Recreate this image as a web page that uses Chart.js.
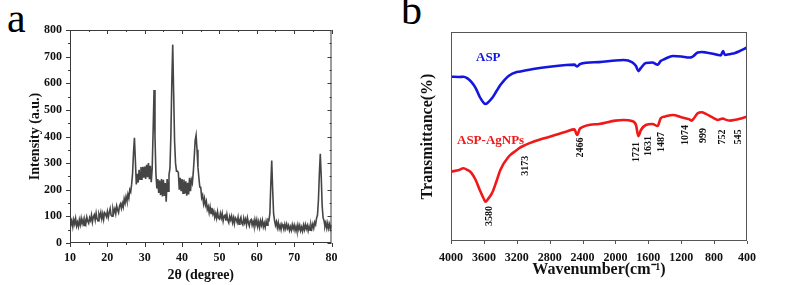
<!DOCTYPE html>
<html>
<head>
<meta charset="utf-8">
<script src="https://cdn.jsdelivr.net/npm/chart.js@4.4.1/dist/chart.umd.min.js"></script>
<style>
  body { margin: 0; background: #fff; width: 787px; height: 285px; overflow: hidden; position: relative;
         font-family: 'Liberation Serif', 'Times New Roman', serif; }
  canvas { position: absolute; top: 0; }
  #xrdChart { left: 0; }
  #ftirChart { left: 395px; }
  .tag { position: absolute; font-size: 42px; line-height: 1; color: #000; }
</style>
</head>
<body>
<div class="tag" style="left:7px; top:-3px;">a</div>
<div class="tag" style="left:401px; top:-11px;">b</div>
<canvas id="xrdChart" width="345" height="285"></canvas>
<canvas id="ftirChart" width="392" height="285"></canvas>
<script>
// ---- panel a: XRD pattern, sampled every 0.25 deg from 10 to 80 ----
const xrdStart = 10;
const xrdStep = 0.25;
const xrdIntensity = [
  // 10 - 14.75
  92, 68, 83, 61, 88, 72, 92, 64, 78, 62, 87, 69, 93, 73, 88, 66, 86, 72, 97, 82,
  // 15 - 19.75
  74, 95, 85, 105, 78, 98, 106, 86, 112, 91, 83, 109, 98, 115, 91, 110, 88, 114, 109, 99,
  // 20 - 24.75
  118, 96, 114, 129, 105, 101, 129, 114, 128, 110, 139, 124, 114, 139, 147, 130, 149, 135, 166, 150,
  // 25 - 29.75
  174, 158, 183, 168, 200, 192, 221, 260, 340, 395, 310, 220, 260, 227, 275, 240, 285, 237, 286, 245,
  // 30 - 34.75
  287, 241, 294, 247, 300, 240, 290, 228, 280, 420, 575, 400, 260, 205, 240, 188, 235, 180, 240, 175,
  // 35 - 39.75
  237, 177, 225, 155, 240, 195, 255, 280, 400, 600, 745, 560, 380, 300, 270, 270, 265, 200, 245, 195,
  // 40 - 44.75
  240, 187, 238, 186, 232, 178, 226, 182, 245, 195, 237, 225, 265, 320, 385, 405, 350, 285, 245, 210,
  // 45 - 49.75
  209, 170, 180, 148, 167, 142, 156, 126, 137, 114, 136, 111, 132, 109, 120, 96, 111, 93, 117, 94,
  // 50 - 54.75
  90, 111, 94, 111, 83, 101, 105, 84, 107, 85, 76, 100, 87, 101, 77, 94, 72, 95, 89, 77,
  // 55 - 59.75
  97, 71, 87, 97, 74, 68, 93, 76, 89, 68, 94, 76, 64, 84, 88, 67, 81, 64, 88, 69,
  // 60 - 64.75
  87, 62, 80, 59, 83, 67, 85, 61, 75, 59, 82, 67, 88, 85, 110, 220, 310, 200, 110, 85,
  // 65 - 69.75
  67, 80, 58, 77, 54, 67, 50, 71, 63, 50, 70, 54, 71, 55, 66, 47, 61, 48, 69, 53,
  // 70 - 74.75
  67, 47, 62, 45, 68, 51, 66, 46, 60, 45, 67, 50, 69, 53, 66, 46, 63, 48, 69, 54,
  // 75 - 79.75
  71, 56, 78, 69, 93, 105, 160, 260, 335, 250, 140, 95, 84, 62, 76, 55, 75, 55, 71, 53,
  // 80
  68
];

// ---- panel b: FTIR spectra ----
const wavenumbers = [
  4000, 3900, 3850, 3800, 3750, 3700, 3650, 3600, 3580, 3550,
  3500, 3450, 3400, 3300, 3200, 3173, 3100, 3000, 2800, 2600,
  2500, 2466, 2430, 2200, 2000, 1900, 1800, 1750, 1721, 1690,
  1631, 1550, 1487, 1450, 1400, 1300, 1200, 1100, 1074, 1050,
  1000, 950, 900, 800, 752, 720, 690, 670, 600, 545,
  500, 400
];
const aspT = [
  78.6, 78.5, 78.6, 77.8, 76.0, 73.2, 68.9, 66.0, 65.6, 66.3,
  68.4, 71.5, 74.6, 79.0, 80.9, 81.0, 81.6, 82.3, 83.4, 84.2,
  84.4, 83.5, 84.7, 85.6, 86.4, 86.6, 85.6, 83.7, 81.3, 82.8,
  85.2, 85.4, 84.4, 86.1, 87.1, 88.5, 88.3, 87.8, 87.9, 88.5,
  90.2, 90.4, 90.2, 89.5, 89.0, 88.8, 90.9, 89.0, 89.5, 90.0,
  90.7, 92.6
];
const aspAgT = [
  33.2, 34.0, 34.8, 34.0, 32.5, 29.2, 24.4, 20.1, 18.8, 20.1,
  23.0, 28.2, 34.0, 40.3, 43.5, 44.4, 45.9, 47.5, 49.9, 52.3,
  53.4, 50.7, 53.9, 56.0, 57.6, 57.9, 57.4, 55.5, 50.2, 53.1,
  55.5, 56.0, 55.0, 58.7, 59.5, 60.3, 59.2, 58.2, 57.6, 58.5,
  61.1, 61.6, 60.8, 58.7, 57.9, 58.4, 58.6, 58.2, 57.6, 58.0,
  58.4, 59.5
];
// band labels and where they sit (data coordinates)
const peakNames = ['3580', '3173', '2466', '1721', '1631', '1487', '1074', '999', '752', '545'];
const peakAnchorX = [3530, 3100, 2420, 1750, 1605, 1435, 1155, 925, 705, 510];
const peakAnchorY = [12, 36, 44.7, 42.6, 45.5, 47.4, 50.7, 50.5, 49.8, 49.8];
const seriesNames = ['ASP', 'ASP-AgNPs'];
const seriesColors = ['#1515e0', '#f01818'];
const nameAnchorX = [3696, 3927];
const nameAnchorY = [87.6, 47.8];

const SERIF = "'Liberation Serif', 'Times New Roman', serif";
Chart.defaults.font.family = SERIF;
Chart.defaults.color = '#111';

const pts = (xs, ys) => xs.map((v, i) => ({ x: v, y: ys[i] }));
const xrdPts = xrdIntensity.map((v, i) => ({ x: xrdStart + i * xrdStep, y: v }));

// frame + mirrored/minor ticks for the XRD panel
const xrdFrame = {
  id: 'xrdFrame',
  afterDatasetsDraw(chart) {
    const { ctx, chartArea: a, scales: { x, y } } = chart;
    ctx.save();
    ctx.strokeStyle = '#3a3a3a';
    ctx.lineWidth = 1;
    ctx.strokeRect(a.left + 0.5, a.top + 0.5, a.right - a.left - 1, a.bottom - a.top - 1);
    ctx.beginPath();
    for (let v = x.min; v <= x.max; v += 5) {
      const px = Math.round(x.getPixelForValue(v)) + 0.5;
      const len = v % 10 === 0 ? 4 : 2;
      ctx.moveTo(px, a.bottom); ctx.lineTo(px, a.bottom + len);
      ctx.moveTo(px, a.top); ctx.lineTo(px, a.top + len);
    }
    for (let v = y.min; v <= y.max; v += 50) {
      const py = Math.round(y.getPixelForValue(v)) + 0.5;
      const len = v % 100 === 0 ? 4 : 2;
      ctx.moveTo(a.left, py); ctx.lineTo(a.left - len, py);
      ctx.moveTo(a.right, py); ctx.lineTo(a.right - len, py);
    }
    ctx.stroke();
    ctx.restore();
  }
};

new Chart(document.getElementById('xrdChart'), {
  type: 'line',
  data: {
    datasets: [{
      data: xrdPts,
      borderColor: '#454545',
      borderWidth: 1.6,
      pointRadius: 0,
      tension: 0
    }]
  },
  options: {
    responsive: false,
    animation: false,
    layout: { padding: { left: 0, top: 30, right: 12, bottom: 0 } },
    plugins: { legend: { display: false }, tooltip: { enabled: false } },
    scales: {
      x: {
        type: 'linear', min: 10, max: 80,
        ticks: { stepSize: 10, padding: 7.5, font: { size: 12, weight: 'bold' } },
        grid: { display: false, drawTicks: false },
        border: { display: false },
        title: { display: true, text: '2θ (degree)', font: { size: 14, weight: 'bold' }, padding: { top: 0, bottom: 1.6 } },
        afterFit(s) { s.height = 42; }
      },
      y: {
        min: 0, max: 800,
        ticks: { stepSize: 100, padding: 8, font: { size: 12, weight: 'bold' } },
        grid: { display: false, drawTicks: false },
        border: { display: false },
        title: { display: true, text: 'Intensity (a.u.)', font: { size: 14, weight: 'bold' }, padding: { top: 26.6, bottom: 0 } },
        afterFit(s) { s.width = 70; }
      }
    }
  },
  plugins: [xrdFrame]
});

// frame, ticks and text labels for the FTIR panel
const ftirDecor = {
  id: 'ftirDecor',
  afterDatasetsDraw(chart) {
    const { ctx, chartArea: a, scales: { x, y } } = chart;
    ctx.save();
    ctx.strokeStyle = '#555';
    ctx.lineWidth = 1;
    ctx.strokeRect(a.left + 0.5, a.top + 0.5, a.right - a.left - 1, a.bottom - a.top - 1);
    ctx.beginPath();
    x.ticks.forEach(t => {
      const px = Math.round(x.getPixelForValue(t.value)) + 0.5;
      ctx.moveTo(px, a.bottom); ctx.lineTo(px, a.bottom + 3);
    });
    ctx.stroke();

    ctx.fillStyle = '#111';
    ctx.font = 'bold 10px ' + SERIF;
    ctx.textAlign = 'center';
    ctx.textBaseline = 'middle';
    peakNames.forEach((t, i) => {
      ctx.save();
      ctx.translate(x.getPixelForValue(peakAnchorX[i]), y.getPixelForValue(peakAnchorY[i]));
      ctx.rotate(-Math.PI / 2);
      ctx.fillText(t, 0, 0);
      ctx.restore();
    });

    ctx.font = 'bold 13px ' + SERIF;
    ctx.textAlign = 'left';
    seriesNames.forEach((t, i) => {
      ctx.fillStyle = seriesColors[i];
      ctx.fillText(t, x.getPixelForValue(nameAnchorX[i]), y.getPixelForValue(nameAnchorY[i]));
    });
    ctx.restore();
  }
};

new Chart(document.getElementById('ftirChart'), {
  type: 'line',
  data: {
    datasets: [
      { label: seriesNames[0], data: pts(wavenumbers, aspT), borderColor: seriesColors[0] },
      { label: seriesNames[1], data: pts(wavenumbers, aspAgT), borderColor: seriesColors[1] }
    ]
  },
  options: {
    responsive: false,
    animation: false,
    layout: { padding: { left: 0, top: 32, right: 40, bottom: 0 } },
    elements: { line: { borderWidth: 2.6, cubicInterpolationMode: 'monotone' }, point: { radius: 0 } },
    plugins: { legend: { display: false }, tooltip: { enabled: false } },
    scales: {
      x: {
        type: 'linear', min: 400, max: 4000, reverse: true,
        ticks: { stepSize: 400, padding: 9.5, autoSkip: false, maxRotation: 0, minRotation: 0,
                 callback: v => String(v), font: { size: 12, weight: 'bold' } },
        grid: { display: false, drawTicks: false },
        border: { display: false },
        title: { display: true, text: 'Wavenumber(cm⁻¹)', font: { size: 16, weight: 'bold' }, padding: { top: 0, bottom: 5.4 } },
        afterFit(s) { s.height = 44; }
      },
      y: {
        min: 0, max: 100,
        ticks: { display: false },
        grid: { display: false, drawTicks: false },
        border: { display: false },
        title: { display: true, text: 'Transmittance(%)', font: { size: 16, weight: 'bold' }, padding: { top: 23.4, bottom: 0 } },
        afterFit(s) { s.width = 56; }
      }
    }
  },
  plugins: [ftirDecor]
});
</script>
</body>
</html>
